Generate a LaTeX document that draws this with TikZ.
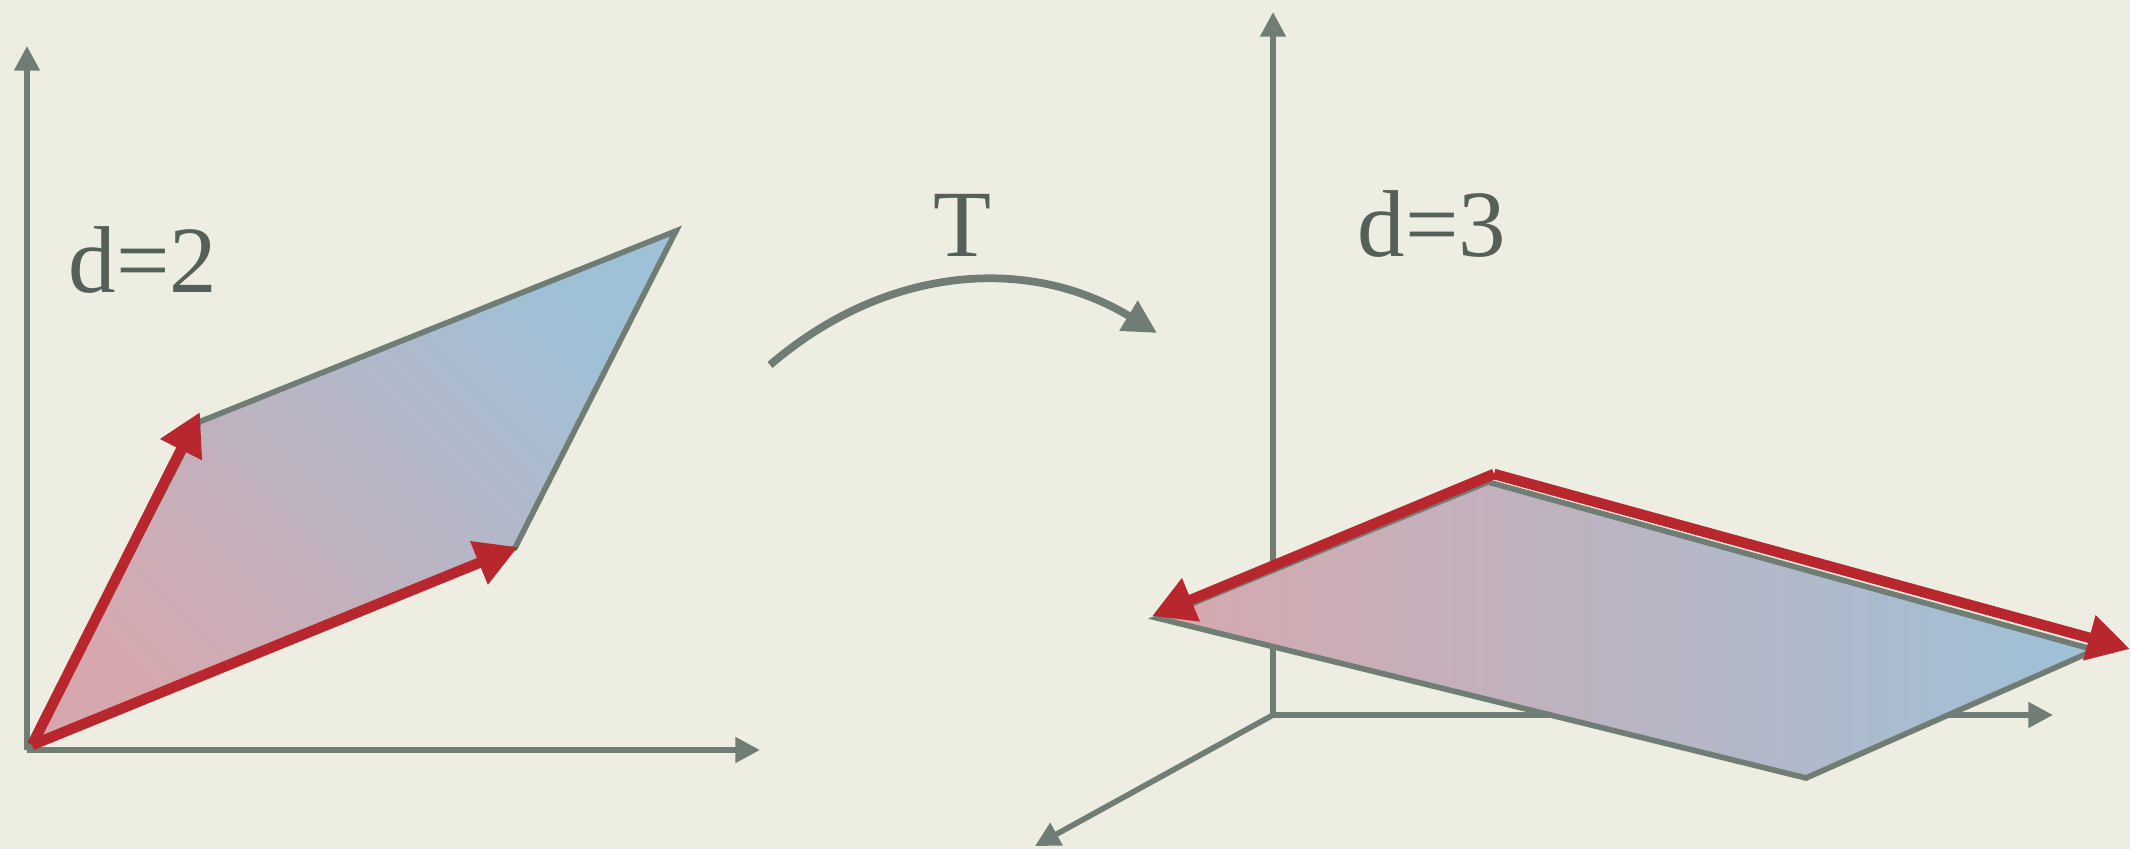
\documentclass[tikz,border=0pt]{standalone}
\usepackage{fontspec}
\setmainfont{Liberation Serif}
\usetikzlibrary{arrows.meta}
\definecolor{paper}{RGB}{238,237,225}
\definecolor{axisgray}{RGB}{112,125,116}
\definecolor{labelgray}{RGB}{85,96,88}
\definecolor{vecred}{RGB}{183,39,45}
\definecolor{lopink}{RGB}{214,168,174}
\definecolor{hiblue}{RGB}{158,193,216}

\begin{document}
\begin{tikzpicture}[x=0.01cm,y=-0.01cm,
  axis/.style={draw=axisgray,line width=1.6pt,-{Triangle[length=7pt,width=7pt]}},
  plane/.style={draw=axisgray,line width=1.6pt,line join=miter},
  vec/.style={draw=vecred,line width=3pt,-{Triangle[length=12pt,width=12.5pt]}},
  maparrow/.style={draw=axisgray,line width=2.2pt,-{Triangle[length=9.5pt,width=9.5pt]}},
  lbl/.style={text=labelgray,font=\fontsize{27}{31}\selectfont,inner sep=0,anchor=base}]
\fill[paper] (0,0) rectangle (2130,849);
\useasboundingbox (0,0) rectangle (2130,849);
% plane in d=2
\coordinate (o2) at (27,750);
\coordinate (x2) at (760,750);
\coordinate (y2) at (27,46);
\draw[axis] (o2) -- (x2);
\draw[axis] (o2) -- (y2);
\coordinate (p0) at (32,745); \coordinate (pa) at (199,422);
\coordinate (pc) at (676,231); \coordinate (pb) at (515,548);
\shade[plane,bottom color=lopink,top color=hiblue,shading angle=-45]
  (p0) -- (pa) -- (pc) -- (pb) -- cycle;
\coordinate (va) at (200,412); \coordinate (vb) at (518,547);
\draw[vec] (p0) -- (va);
\draw[vec] (p0) -- (vb);
\node[lbl] (dtwo) at (143,293) {d=2};
% map
\coordinate (ts) at (770,365);
\coordinate (te) at (1157,333);
\draw[maparrow] (ts) to[bend left=36] (te);
\node[lbl] (tmap) at (962,257) {T};
% plane in d=3
\coordinate (o3) at (1273,715);
\coordinate (x3) at (2053,715);
\coordinate (y3) at (1273,12);
\coordinate (z3) at (1035,846);
\draw[axis] (o3) -- (x3);
\draw[axis] (o3) -- (y3);
\draw[axis] (o3) -- (z3);
\coordinate (ql) at (1157,618); \coordinate (qp) at (1488,482);
\coordinate (qr) at (2095,650); \coordinate (qq) at (1806,778);
\shade[plane,left color=lopink,right color=hiblue]
  (ql) -- (qp) -- (qr) -- (qq) -- cycle;
\coordinate (q0) at (1494,474);
\coordinate (ul) at (1152,616); \coordinate (ur) at (2130,649);
\draw[vec] (q0) -- (ul);
\draw[vec] (q0) -- (ur);
\node[lbl] (dthree) at (1432,257) {d=3};
\end{tikzpicture}
\end{document}
